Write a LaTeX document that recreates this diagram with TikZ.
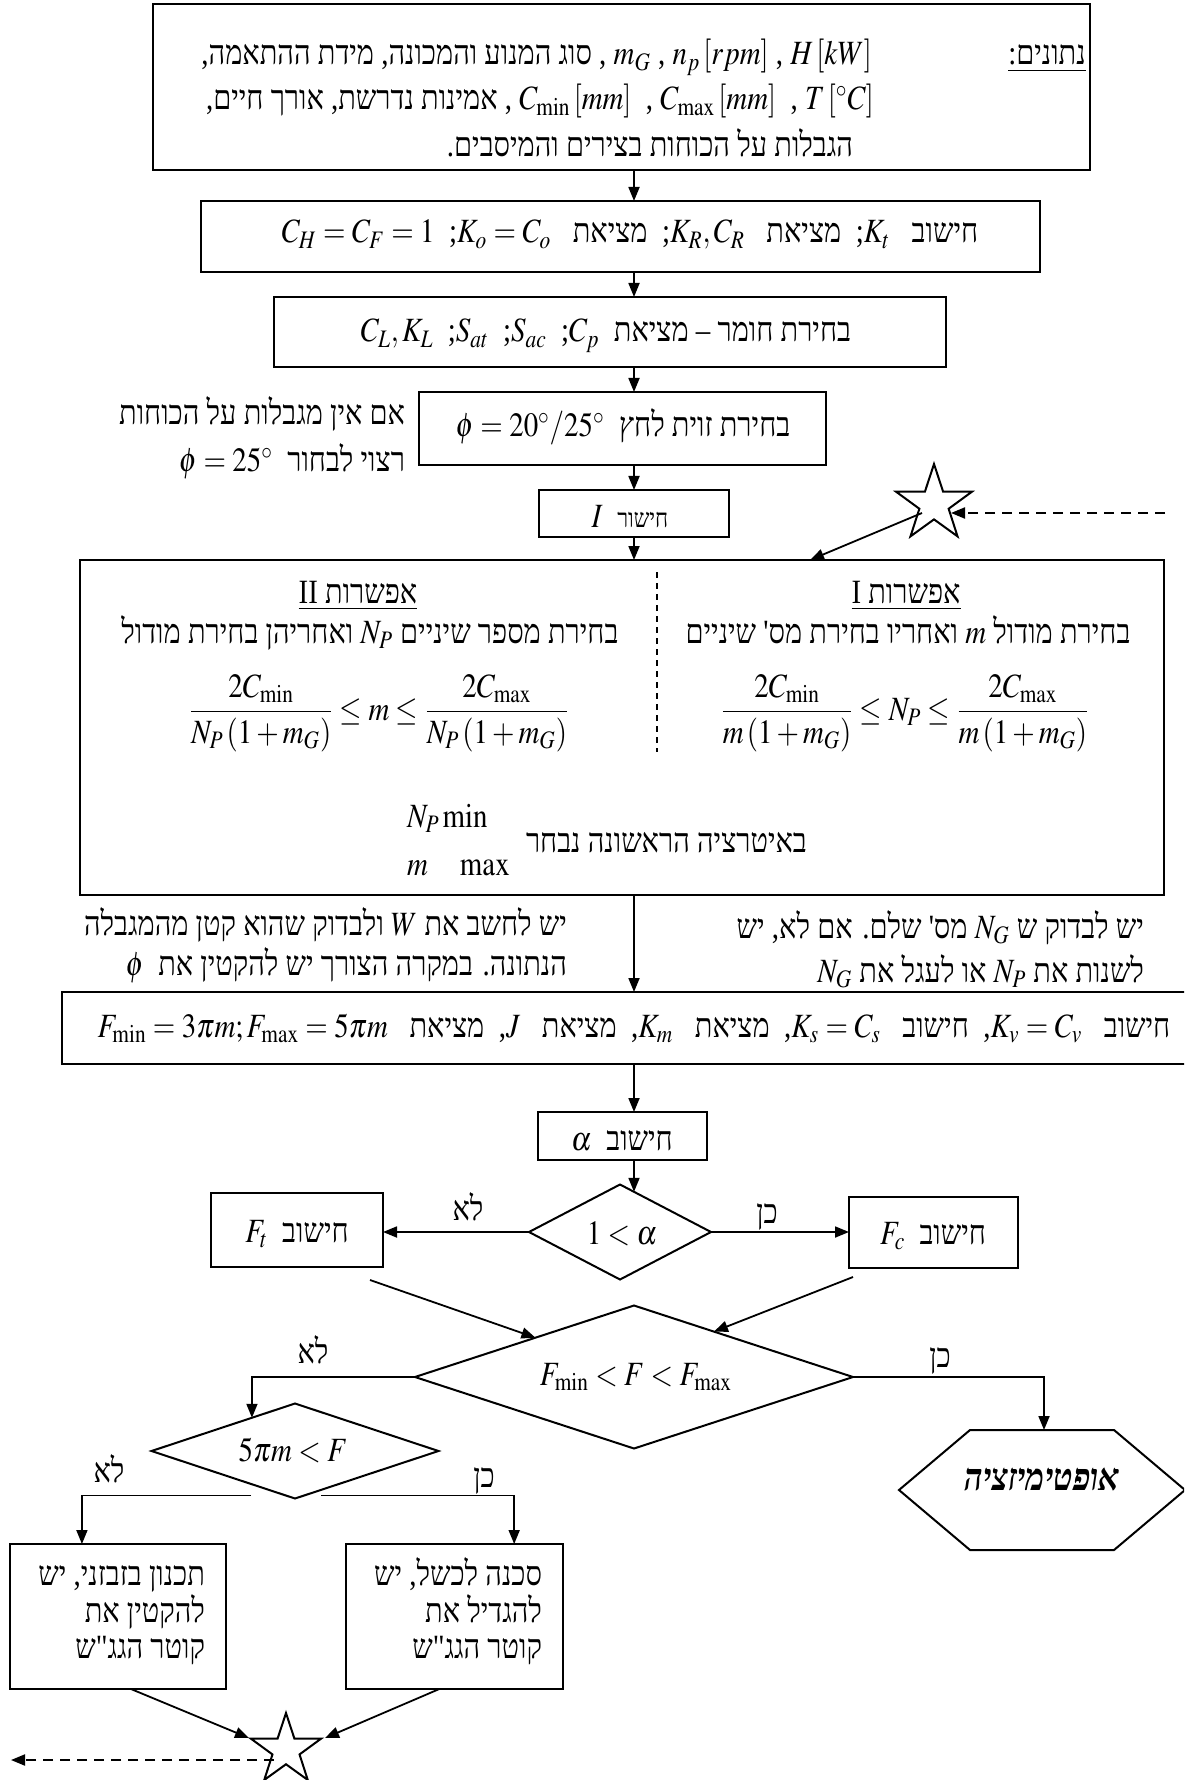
\documentclass[tikz,border=0pt]{standalone}
\usepackage{mathptmx}
\usepackage{fontspec}
\setmainfont{Liberation Serif}
\newfontfamily\hebfont[Script=Hebrew]{Liberation Serif}
\TeXXeTstate=1
\usetikzlibrary{shapes.geometric,arrows.meta,calc}
\newcommand{\heb}[1]{{\hebfont\beginR #1\endR}}
\begin{document}
\begin{tikzpicture}[x=0.5pt,y=-0.5pt,
  txt/.style={inner sep=0pt, outer sep=0pt, xscale=0.85, font=\fontsize{17}{20}\selectfont},
  bx/.style n args={2}{draw, line width=1.1pt, minimum width=#1, minimum height=#2, inner sep=0pt, outer sep=0pt},
  dia/.style n args={2}{draw, diamond, line width=1pt, minimum width=#1, minimum height=#2, inner sep=0pt, outer sep=0pt},
  st/.style={draw, star, star points=5, star point ratio=2.6, line width=1pt, inner sep=0pt, outer sep=0pt, minimum size=#1},
  arr/.style={line width=0.9pt, -{Triangle[length=7pt,width=5.5pt]}},
  dsh/.style={line width=1pt, dash pattern=on 5pt off 3.5pt}]
\useasboundingbox (0,0) rectangle (1184,1780);
\fill[white] (0,0) rectangle (1184,1780);
\clip (0,0) rectangle (1184,1780);
\coordinate (ax) at (634,0);

% ---------- boxes ----------
\node[bx={468.5pt}{83pt}] (b1) at (621.5,87) {};
\node[bx={419.5pt}{35.5pt}] (b2) at (620.5,236.5) {};
\node[bx={336pt}{35pt}] (b3) at (610,332) {};
\node[bx={203.5pt}{36.5pt}] (b4) at (622.5,428.5) {};
\node[bx={95pt}{23.5pt}] (b5) at (634,513.5) {};
\node[bx={542pt}{167.5pt}] (b6) at (622,727.5) {};
\node[bx={564pt}{36pt}] (b7) at (626,1028) {};
\node[bx={84.5pt}{24pt}] (b8) at (622.5,1136) {};
\node[dia={91pt}{47.5pt}] (d1) at (620,1232) {};
\node[bx={86pt}{37pt}] (ft) at (297,1230) {};
\node[bx={84.5pt}{35.5pt}] (fc) at (933.5,1232.5) {};
\node[dia={219pt}{71.5pt}] (d2) at (634,1377) {};
\node[dia={143.5pt}{47.5pt}] (d3) at (295,1451) {};
\node[bx={108pt}{72.5pt}] (b9) at (118,1616.5) {};
\node[bx={108.5pt}{72.5pt}] (b10) at (454.5,1616.5) {};
\node[st=40pt] (s1) at (934,504) {};
\node[st=37pt] (s2) at (286,1750) {};
\draw[line width=1pt] (899,1490) -- (970,1430) -- (1114,1430) -- (1185,1490) -- (1114,1550) -- (970,1550) -- cycle;
\coordinate (hextop) at (1044,1430);

% ---------- texts ----------
\node[txt, anchor=base east] (t1) at (872,65) {\heb{סוג המנוע והמכונה, מידת ההתאמה,} , $m_G$ , $n_p\left[rpm\right]$ , $H\left[kW\right]$};
\node[txt, anchor=base] (tn) at (1047,65) {\underline{\heb{נתונים:}}};
\node[txt, anchor=base east] (t2) at (874,110) {\heb{אמינות נדרשת, אורך חיים,}\ , $C_{\min}\left[mm\right]$\ \ , $C_{\max}\left[mm\right]$\ \ , $T\left[{}^\circ C\right]$};
\node[txt, anchor=base east] (t3) at (853,157) {\heb{הגבלות על הכוחות בצירים והמיסבים.}};

\node[txt, anchor=base] (t4) at (630,243) {$C_H = C_F = 1$\ \ ;$K_o = C_o$\ \ \ \heb{מציאת}\ \ ;$K_R,C_R$\ \ \ \heb{מציאת}\ \ ;$K_t$\ \ \ \heb{חישוב}};
\node[txt, anchor=base] (t5) at (606,342) {$C_L,K_L$ \ ;$S_{at}$ \ ;$S_{ac}$ \ ;$C_p$\ \ \heb{בחירת חומר – מציאת}};
\node[txt, anchor=base] (t6) at (623,437) {$\phi = 20^\circ/25^\circ$ \ \heb{בחירת זוית לחץ}};
\node[txt, anchor=base east] (t7) at (405,425) {\heb{אם אין מגבלות על הכוחות}};
\node[txt, anchor=base east] (t8) at (405,472) {$\phi = 25^\circ$ \ \heb{רצוי לבחור}};
\node[txt, anchor=base] (t9) at (630,528) {$I$\ \ {\fontsize{13}{15}\selectfont\heb{חישור}}};

\node[txt, anchor=base] (o2t) at (358,603) {\underline{\heb{אפשרות II}}};
\node[txt, anchor=base] (o1t) at (906,603) {\underline{\heb{אפשרות I}}};
\node[txt, anchor=base] (o2l) at (370,643) {\heb{ואחריהן בחירת מודול} $N_P$ \heb{בחירת מספר שיניים}};
\node[txt, anchor=base] (o1l) at (908,643) {\heb{ואחריו בחירת מס' שיניים} $m$ \heb{בחירת מודול}};
\node[txt] (f2) at (379,713) {$\displaystyle\frac{2C_{\min}}{N_P\left(1+m_G\right)} \le m \le \frac{2C_{\max}}{N_P\left(1+m_G\right)}$};
\node[txt] (f1) at (905,713) {$\displaystyle\frac{2C_{\min}}{m\left(1+m_G\right)} \le N_P \le \frac{2C_{\max}}{m\left(1+m_G\right)}$};
\node[txt, anchor=base west] (it1) at (407,827) {$N_P \min$};
\node[txt, anchor=base west] (it2) at (407,875) {$m\quad\max$};
\node[txt, anchor=base west] (it3) at (526,852) {\heb{באיטרציה הראשונה נבחר}};
\coordinate (dv1) at (657,572);
\coordinate (dv2) at (657,752);
\draw[line width=0.7pt, dash pattern=on 3pt off 2.5pt] (dv1) -- (dv2);

\node[txt, anchor=base east] (n1) at (567,935) {\heb{ולבדוק שהוא קטן מהמגבלה} $W$ \heb{יש לחשב את}};
\node[txt, anchor=base east] (n2) at (567,975) {$\phi$ \ \heb{הנתונה. במקרה הצורך יש להקטין את}};
\node[txt, anchor=base east] (n3) at (1144,938) {\heb{מס' שלם. אם לא, יש} $N_G$ \heb{יש לבדוק ש}};
\node[txt, anchor=base east] (n4) at (1144,982) {$N_G$ \heb{או לעגל את} $N_P$ \heb{לשנות את}};

\node[txt, anchor=base] (t10) at (634,1037) {$F_{\min} = 3\pi m; F_{\max} = 5\pi m$\ \ \ \heb{מציאת}\ \ ,$J$\ \ \ \heb{מציאת}\ \ ,$K_m$\ \ \ \heb{מציאת}\ \ ,$K_s = C_s$\ \ \ \heb{חישוב}\ \ ,$K_v = C_v$\ \ \ \heb{חישוב}};
\node[txt, anchor=base] (t11) at (622,1150) {$\alpha$ \ \heb{חישוב}};
\node[txt] (td1) at (622,1234) {$1<\alpha$};
\node[txt, anchor=base] (tft) at (297,1242) {$F_t$ \ \heb{חישוב}};
\node[txt, anchor=base] (tfc) at (933,1244) {$F_c$ \ \heb{חישוב}};
\node[txt, anchor=base] (l1) at (468,1220) {\heb{לא}};
\node[txt, anchor=base] (l2) at (767,1223) {\heb{כן}};
\node[txt] (td2) at (636,1377) {$F_{\min} < F < F_{\max}$};
\node[txt, anchor=base] (l3) at (313,1363) {\heb{לא}};
\node[txt, anchor=base] (l4) at (940,1367) {\heb{כן}};
\node[txt] (td3) at (293,1451) {$5\pi m < F$};
\node[txt, anchor=base] (l5) at (109,1482) {\heb{לא}};
\node[txt, anchor=base] (l6) at (484,1487) {\heb{כן}};
\node[txt, anchor=base, font=\fontsize{19}{22}\selectfont] (thx) at (1042,1490) {{\bfseries\itshape\heb{אופטימיזציה}}};
\node[txt, anchor=base east] (c1) at (205,1585) {\heb{תכנון בזבזני, יש}};
\node[txt, anchor=base east] (c2) at (205,1622) {\heb{להקטין את}};
\node[txt, anchor=base east] (c3) at (205,1658) {\heb{קוטר הגג"ש}};
\node[txt, anchor=base east] (c4) at (542,1585) {\heb{סכנה לכשל, יש}};
\node[txt, anchor=base east] (c5) at (542,1622) {\heb{להגדיל את}};
\node[txt, anchor=base east] (c6) at (542,1658) {\heb{קוטר הגג"ש}};

% ---------- connectors ----------
\draw[arr] (b1.south -| ax) -- (b2.north -| ax);
\draw[arr] (b2.south -| ax) -- (b3.north -| ax);
\draw[arr] (b3.south -| ax) -- (b4.north -| ax);
\draw[arr] (b4.south -| ax) -- (b5.north -| ax);
\draw[arr] (b5.south -| ax) -- (b6.north -| ax);
\coordinate (s1in) at (810,0);
\draw[arr] ($(s1.center)+(-12,9)$) -- (b6.north -| s1in);
\coordinate (dashR) at (1165,513);
\draw[dsh, -{Triangle[length=7pt,width=5.5pt]}] (dashR) -- ($(s1.center)+(17,9)$);
\draw[arr] (b6.south -| ax) -- (b7.north -| ax);
\draw[arr] (b7.south -| ax) -- (b8.north -| ax);
\draw[arr] (b8.south -| ax) -- ($(d1.north)!0.154!(d1.east)$);
\draw[arr] (d1.west) -- (d1.west -| ft.east);
\draw[arr] (d1.east) -- (d1.east -| fc.west);
\coordinate (ftout) at (370,1280);
\coordinate (fcout) at (853,1277);
\draw[arr] (ftout) -- ($(d2.north)!0.45!(d2.west)$);
\draw[arr] (fcout) -- ($(d2.north)!0.365!(d2.east)$);
\draw[arr] (d2.west) -| ($(d3.north)!0.3!(d3.west)$);
\draw[arr] (d2.east) -| (hextop);
\coordinate (d3l) at ($(d3.south)+(-44,-3)$);
\coordinate (d3r) at ($(d3.south)+(26,-3)$);
\draw[arr] (d3l) -| ($(b9.north west)!0.333!(b9.north east)$);
\draw[arr] (d3r) -| ($(b10.north west)!0.775!(b10.north east)$);
\draw[arr] ($(b9.south west)!0.56!(b9.south east)$) -- ($(s2.center)+(-37,-12)$);
\draw[arr] ($(b10.south west)!0.43!(b10.south east)$) -- ($(s2.center)+(39,-12)$);
\coordinate (dashL) at (11,1760);
\draw[dsh, -{Triangle[length=7pt,width=5.5pt]}] ($(s2.center)+(-12,10)$) -- (dashL);
\end{tikzpicture}
\end{document}
